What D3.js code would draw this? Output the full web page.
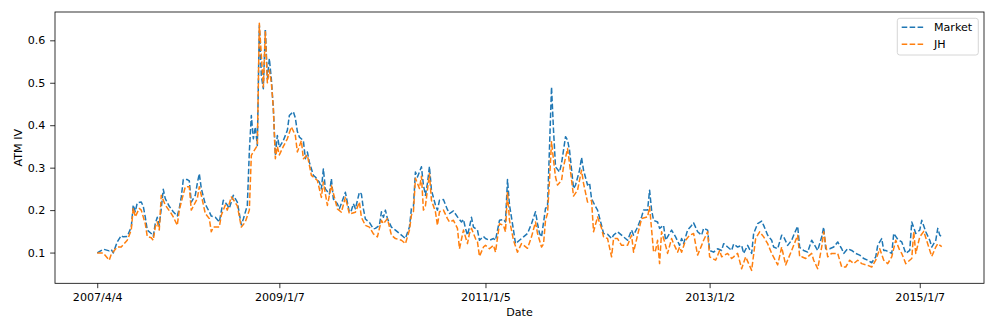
<!DOCTYPE html>
<html><head><meta charset="utf-8">
<script src="https://cdn.jsdelivr.net/npm/d3@7"></script>
<style>body{margin:0;background:#fff;} svg{display:block;} text{font-family:"DejaVu Sans",sans-serif;}</style>
</head><body><svg id="chart" width="997" height="332"></svg>
<script>
// Week index (weekly observations from 2007/4/4) and ATM implied vol
const marketWeek = [0,3,6,7,8,10,12,13,15,17,18,19,20,22,23,24,25,27,28,29,30,31,32,33,34,36,38,40,41,42,43,45,46,47,49,50,51,52,54,56,57,59,61,63,65,66,68,70,72,73,75,76,77,78,79,80,81,82,83,84,85,86,87,88,89,90,91,93,95,96,98,99,100,101,103,104,105,106,108,109,111,112,113,114,116,117,118,120,121,124,126,127,128,129,131,132,133,134,136,138,139,141,142,143,144,145,147,149,151,154,156,157,158,159,160,162,163,164,165,166,167,169,170,171,173,175,176,178,180,182,183,184,185,186,187,188,190,191,193,194,196,198,199,201,203,204,205,206,208,209,211,213,215,217,219,220,221,222,224,225,226,227,228,229,231,232,234,235,236,238,239,241,242,243,245,246,247,249,250,252,253,255,257,258,260,262,265,267,268,270,272,273,275,276,277,278,280,281,283,284,286,287,289,291,292,293,295,297,298,300,302,303,305,306,308,310,312,313,315,317,318,320,322,323,325,327,328,330,332,333,335,337,338,340,342,343,345,347,348,350,351,353,355,357,358,360,362,363,364,366,368,370,372,373,375,377,379,381,383,385,387,389,390,392,393,394,397,398,400,402,404,406,407,409,411,412,414,416,417,419,420,421,422];
const marketIV = [.099,.108,.104,.107,.099,.125,.140,.137,.138,.160,.212,.196,.217,.219,.209,.184,.153,.145,.138,.168,.183,.164,.204,.249,.227,.209,.196,.186,.204,.231,.272,.272,.269,.219,.235,.263,.286,.251,.214,.196,.186,.183,.172,.223,.212,.204,.235,.219,.165,.179,.211,.337,.423,.368,.396,.352,.635,.517,.486,.627,.509,.557,.509,.439,.329,.376,.348,.364,.388,.423,.432,.417,.385,.372,.364,.321,.337,.313,.282,.278,.266,.250,.297,.250,.238,.274,.226,.215,.203,.242,.195,.199,.215,.203,.242,.238,.203,.179,.171,.156,.157,.164,.196,.183,.200,.180,.160,.153,.145,.133,.160,.204,.209,.290,.278,.302,.259,.235,.263,.303,.247,.212,.200,.223,.225,.201,.192,.198,.184,.172,.178,.157,.141,.160,.183,.160,.153,.129,.138,.133,.129,.133,.129,.176,.178,.172,.272,.212,.153,.121,.129,.137,.145,.168,.196,.168,.145,.137,.204,.208,.349,.490,.388,.302,.290,.310,.373,.365,.341,.251,.259,.294,.324,.294,.259,.264,.227,.208,.200,.164,.145,.143,.133,.141,.149,.141,.129,.153,.141,.160,.184,.200,.200,.247,.200,.176,.172,.157,.164,.129,.145,.153,.137,.117,.133,.121,.153,.164,.170,.149,.141,.157,.153,.105,.101,.109,.105,.121,.113,.105,.120,.113,.117,.098,.117,.098,.145,.168,.174,.164,.141,.129,.113,.109,.141,.137,.117,.129,.141,.162,.112,.105,.101,.129,.121,.105,.137,.160,.109,.109,.113,.125,.109,.098,.109,.105,.098,.094,.086,.082,.076,.090,.117,.133,.105,.105,.098,.145,.131,.125,.098,.105,.172,.145,.153,.176,.149,.129,.113,.129,.157,.141,.137];
const jhWeek = [0,3,6,7,10,12,15,17,18,19,21,22,24,25,27,28,29,30,31,32,34,37,38,40,41,42,44,46,47,50,51,52,54,56,57,58,61,62,64,65,67,68,70,72,74,76,77,78,80,81,83,84,85,86,87,88,89,90,91,93,95,97,99,100,102,103,105,107,110,112,113,115,117,120,122,124,126,129,131,132,134,136,138,140,142,143,145,147,149,152,154,156,157,158,159,161,162,163,164,166,167,169,170,171,173,175,176,178,180,181,183,184,185,186,187,189,190,191,193,194,196,198,199,201,203,204,205,206,208,210,212,215,217,219,220,222,223,224,225,226,227,228,229,230,232,233,235,236,238,240,242,243,245,247,248,250,252,253,255,257,258,260,262,265,267,268,270,272,275,276,278,279,280,281,282,284,285,287,288,290,291,292,294,296,298,300,302,303,305,306,309,311,312,315,317,318,320,322,324,327,329,331,333,335,337,340,342,344,347,350,351,352,354,357,358,360,362,363,365,367,370,372,374,376,378,380,382,385,387,389,391,393,395,397,399,401,402,404,407,408,409,411,413,415,417,419,420,422];
const jhIV = [.099,.099,.082,.096,.113,.113,.129,.153,.205,.184,.204,.200,.168,.138,.135,.129,.160,.172,.153,.235,.212,.192,.184,.164,.200,.219,.255,.255,.200,.227,.255,.235,.192,.180,.149,.160,.160,.188,.212,.200,.231,.225,.210,.160,.172,.200,.329,.337,.352,.640,.490,.620,.500,.530,.500,.440,.321,.350,.330,.350,.368,.396,.376,.337,.364,.321,.330,.282,.270,.230,.266,.211,.258,.203,.195,.230,.191,.195,.219,.183,.164,.160,.144,.137,.176,.168,.180,.141,.133,.129,.121,.153,.188,.196,.275,.251,.280,.200,.210,.286,.223,.196,.164,.196,.200,.180,.172,.176,.157,.109,.153,.137,.121,.145,.157,.133,.125,.091,.113,.117,.109,.117,.101,.168,.164,.149,.243,.176,.129,.101,.121,.110,.137,.172,.145,.113,.120,.176,.192,.270,.361,.318,.278,.259,.270,.302,.345,.310,.233,.247,.294,.263,.219,.223,.149,.184,.157,.137,.133,.090,.133,.133,.117,.117,.141,.101,.141,.180,.184,.208,.101,.105,.129,.074,.149,.117,.098,.133,.121,.101,.113,.101,.129,.141,.145,.094,.117,.129,.149,.090,.082,.105,.090,.098,.086,.090,.098,.062,.090,.058,.133,.149,.137,.121,.098,.071,.113,.071,.105,.141,.090,.090,.086,.098,.082,.062,.113,.149,.090,.098,.098,.066,.066,.082,.074,.082,.074,.070,.066,.082,.109,.082,.074,.090,.129,.105,.098,.074,.086,.149,.098,.137,.150,.120,.091,.113,.121,.114];
const lastWeek = 422;
const tickWeek = [0, 91, 194, 306, 411];
const tickLabels = ["2007/4/4", "2009/1/7", "2011/1/5", "2013/1/2", "2015/1/7"];
const yTicks = [0.1, 0.2, 0.3, 0.4, 0.5, 0.6];
const seriesNames = ["Market", "JH"];
const seriesColors = ["#1f77b4", "#ff7f0e"];

const L = 55, R = 984, T = 12, B = 283.3;
const FS = 11.1;
const svg = d3.select("#chart");

const x = d3.scaleLinear().domain([-0.05 * lastWeek, 1.05 * lastWeek]).range([L, R]);
const y = d3.scaleLinear().domain([0.0276, 0.6667]).range([B, T]);

const series = [
  {name: seriesNames[0], color: seriesColors[0], pts: marketWeek.map((w, i) => [w, marketIV[i]])},
  {name: seriesNames[1], color: seriesColors[1], pts: jhWeek.map((w, i) => [w, jhIV[i]])}
];

const line = d3.line().x(d => x(d[0])).y(d => y(d[1]));
const plot = svg.append("g");
series.forEach(s => {
  plot.append("path").datum(s.pts)
    .attr("d", line).attr("fill", "none")
    .attr("stroke", s.color).attr("stroke-width", 1.5)
    .attr("stroke-dasharray", "5.55,2.4").attr("stroke-linejoin", "round");
});

// axes
const xAxis = svg.append("g").attr("transform", `translate(0,${B})`)
  .call(d3.axisBottom(x).tickValues(tickWeek).tickFormat((d, i) => tickLabels[i]).tickSize(4.86).tickPadding(4.6));
const yAxis = svg.append("g").attr("transform", `translate(${L},0)`)
  .call(d3.axisLeft(y).tickValues(yTicks).tickFormat(d3.format(".1f")).tickSize(4.86).tickPadding(4.86));
[xAxis, yAxis].forEach(a => {
  a.select(".domain").remove();
  a.selectAll(".tick line").attr("stroke", "#000").attr("stroke-width", 0.8);
  a.selectAll(".tick text").attr("fill", "#000").style("font-size", FS + "px").style("font-family", "DejaVu Sans");
});

svg.append("rect").attr("x", L).attr("y", T).attr("width", R - L).attr("height", B - T)
  .attr("fill", "none").attr("stroke", "#000").attr("stroke-width", 0.8);

svg.append("text").attr("x", (L + R) / 2).attr("y", 316.4).attr("text-anchor", "middle")
  .style("font-size", FS + "px").attr("fill", "#000").text("Date");
svg.append("text").attr("transform", `translate(22.4,${(T + B) / 2}) rotate(-90)`).attr("text-anchor", "middle")
  .style("font-size", FS + "px").attr("fill", "#000").text("ATM IV");

// legend
const lg = svg.append("g");
lg.append("rect").attr("x", 897.3).attr("y", 18.3).attr("width", 81).attr("height", 36.7).attr("rx", 2.5)
  .attr("fill", "#fff").attr("fill-opacity", 0.8).attr("stroke", "#cccccc").attr("stroke-width", 0.8);
series.forEach((s, i) => {
  const cy = 27.3 + i * 17;
  lg.append("line").attr("x1", 901.7).attr("x2", 923.9).attr("y1", cy).attr("y2", cy)
    .attr("stroke", s.color).attr("stroke-width", 1.5).attr("stroke-dasharray", "5.55,2.4");
  lg.append("text").attr("x", 934).attr("y", cy).attr("dy", "0.35em")
    .style("font-size", FS + "px").attr("fill", "#000").text(s.name);
});
</script></body></html>
